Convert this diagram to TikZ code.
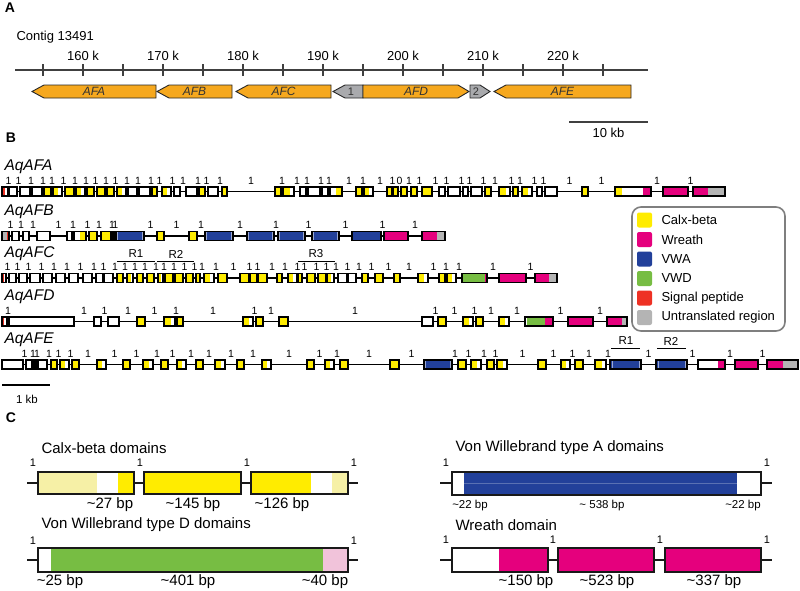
\documentclass[tikz,border=0pt]{standalone}
\usepackage{fontspec}
\setmainfont{Liberation Sans}
\usetikzlibrary{calc}

\definecolor{gen}{HTML}{F6A81E}
\definecolor{gengr}{HTML}{A9AAAD}
\definecolor{cb}{HTML}{FFEC00}
\definecolor{cblt}{HTML}{F6F0A6}
\definecolor{wr}{HTML}{E5007D}
\definecolor{wrlt}{HTML}{F1C3DA}
\definecolor{vwa}{HTML}{22409A}
\definecolor{vwd}{HTML}{77BD43}
\definecolor{sp}{HTML}{EE3124}
\definecolor{utr}{HTML}{B4B4B4}
\definecolor{rim}{HTML}{7F7F7F}

% split points inside a path picture
\newcommand\ppb[1]{($(path picture bounding box.south west)!#1!(path picture bounding box.south east)$)}
\newcommand\ppt[1]{($(path picture bounding box.north west)!#1!(path picture bounding box.north east)$)}

% one gene row: name, y, exons a/b/style/phase
\newcommand\exonrow[3]{%
  \foreach \xa/\xb/\sty/\lab [remember=\xb as \xl (initially 0), count=\i] in {#3}{%
    \ifnum\i>1 \node[ph] (#1-\i) at ({(\xl+\xa)/2},#2-11) {\lab};\fi
    \edef\exopt{ex,\sty}%
    \expandafter\draw\expandafter[\exopt] (\xa,#2-4.5) rectangle (\xb,#2+4.5);
  }}

\begin{document}
\begin{tikzpicture}[x=1pt, y=-1pt,
    font=\fontsize{13}{15}\selectfont,
    panel/.style={font=\bfseries\fontsize{14}{16}\selectfont},
    axis/.style={line width=1.5pt, black!75},
    gene/.style={draw=black!85, line width=0.9pt, fill=gen},
    gl/.style={font=\itshape\fontsize{12}{14}\selectfont, text=black!80},
    rowlbl/.style={font=\itshape\fontsize{15.5}{17}\selectfont, anchor=west},
    ph/.style={font=\fontsize{10.5}{11}\selectfont, inner sep=0pt},
    intr/.style={line width=1.1pt},
    ex/.style={draw=black, line width=1.1pt},
    tri/.style n args={5}{fill=#3, path picture={\fill[#1] \ppb{0} rectangle \ppt{#2}; \fill[#5] \ppb{#4} rectangle \ppt{1};}},
    W/.style={fill=white},
    Y/.style={fill=cb},
    M/.style={fill=wr},
    YW/.style={tri={cb}{#1}{white}{1}{white}}, YW/.default=0.6,
    WY/.style={tri={white}{#1}{cb}{1}{cb}}, WY/.default=0.5,
    SP/.style={tri={sp}{#1}{white}{1}{white}}, SP/.default=0.45,
    UR/.style={tri={utr}{#1}{sp}{1}{sp}}, UR/.default=0.65,
    MU/.style={tri={wr}{#1}{utr}{1}{utr}}, MU/.default=0.6,
    WM/.style={tri={white}{#1}{wr}{1}{wr}}, WM/.default=0.75,
    B/.style={fill=vwa, path picture={\draw[white!55!vwa, line width=0.6pt] \ppb{0.06} -- \ppt{0.06} \ppb{0.94} -- \ppt{0.94};}},
    BM/.style={tri={vwa}{0}{vwa}{0.95}{wr}},
    GM/.style={tri={white}{0.04}{vwd}{0.92}{wr}},
    WGM/.style={tri={white}{0.08}{vwd}{0.72}{wr}},
    YWM/.style={tri={cb}{0.2}{white}{0.78}{wr}},
    rb/.style={line width=0.8pt},
    rl/.style={font=\fontsize{11.5}{12}\selectfont},
    ct/.style={font=\fontsize{15}{17}\selectfont, anchor=west},
    bp/.style={font=\fontsize{15}{17}\selectfont},
    bps/.style={font=\fontsize{11.5}{13}\selectfont},
    cn/.style={font=\fontsize{11}{12}\selectfont},
    stem/.style={line width=2.6pt, black!90},
    dom/.style={draw=black!90, line width=2.6pt}]

    \useasboundingbox (0,0) rectangle (800,590);

    % A: kontig s geny
    \node[panel] (pA) at (10,8) {A};
    \node[anchor=west] (contig) at (13,37) {Contig 13491};
    \draw[axis] (15,70) -- (648,70);
    \foreach \i in {0,...,14} \draw[axis] ({43+40*\i},64) -- ++(0,12);
    \foreach \k [count=\i] in {160,170,...,220} \node (t\k) at ({3+80*\i},56) {\k\ k};

    \foreach \ta/\tb/\tc/\nm in {32/44/156/AFA, 157/169/232/AFB, 236/248/331/AFC, 494/506/631/AFE}{
      \draw[gene] (\ta,91.5) -- (\tb,85) -- (\tc,85) -- (\tc,98) -- (\tb,98) -- cycle;
      \node[gl] (g\nm) at ({(\ta+\tc)/2},91.5) {\nm};
    }
    \draw[gene, fill=gengr] (333,91.5) -- (345,85) -- (363,85) -- (363,98) -- (345,98) -- cycle;
    \node[gl, font=\fontsize{11}{12}\selectfont] (gOne) at (351,92) {1};
    \draw[gene] (363,85) -- (458,85) -- (469,91.5) -- (458,98) -- (363,98) -- cycle;
    \node[gl] (gAFD) at (416,91.5) {AFD};
    \draw[gene, fill=gengr] (470,85) -- (480,85) -- (490,91.5) -- (480,98) -- (470,98) -- cycle;
    \node[gl, font=\fontsize{11}{12}\selectfont] (gTwo) at (476,92) {2};

    \draw[axis] (569,122) -- (648,122);
    \node (kb10) at (608.5,133) {10 kb};

    % B: exony
    \node[panel] (pB) at (11,138) {B};

    \node[rowlbl] (nAFA) at (1,167) {AqAFA};
    \draw[intr] (2,191.5) -- (725,191.5);
    \exonrow{A}{191.5}{2/8/SP/, 9/17/W/1, 20/30/W/1, 32/42/W/1, 44/51/Y/1, 53/62/YW/1, 65/74/Y/1, 76/85/YW/1,
      87/94/Y/1, 97/105/Y/1, 107/114/Y/1, 117/126/YW/1, 128/137/W/1, 139/150/W/1, 152/157/Y/1, 162/171/YW/1,
      174/180/W/1, 186/197/W/1, 199/205/Y/1, 208/218/W/1, 222/227/Y/1, 275/281/Y/1, 283/294/YW/1, 300/306/W/1,
      308/320/W/1, 322/328/W/1, 330/342/WY/1, 356/362/Y/1, 364/373/YW/1, 387/392/Y/1, 393/398/Y/1, 401/407/Y/0,
      411/417/Y/1, 422/432/Y/1, 439/445/W/1, 448/460/W/1, 463/468/W/1, 471/482/W/1, 485/491/Y/1, 499/510/YW/1,
      513/518/Y/1, 522/532/YW/1, 537/542/W/1, 545/557/W/1, 582/588/Y/1, 615/651/YWM/1, 663/688/M/1, 693/725/MU=0.47/1}

    \node[rowlbl] (nAFB) at (1,212) {AqAFB};
    \draw[intr] (2,236) -- (445,236);
    \exonrow{B}{236}{2/9/UR/, 12/19/W/1, 23/29/W/1, 37/50/W/1, 67/72/W/1, 74/86/WY/1, 89/97/Y/1, 101/111/Y/1,
      113/114.5/W/1, 116/144/B/1, 157/164/Y/1, 189/197/Y/1, 205/233/B/1, 247/274/B/1, 278/305/B/1, 312/339/B/1,
      352/381/BM/1, 384/408/M/1, 422/445/MU=0.65/1}

    \node[rowlbl] (nAFC) at (1,254) {AqAFC};
    \draw[intr] (2,278) -- (557,278);
    \exonrow{C}{278}{2/6/SP/, 9/16/W/1, 19/27/W/1, 30/40/W/1, 43/52/W/1, 56/65/W/1, 69/78/W/1, 83/92/W/1,
      96/103/W/1, 104/113/W/1, 117/123/Y/1, 127/133/YW/1, 137/143/Y/1, 147/154/Y/1, 158/163/YW/1, 165/173/Y/1,
      175/183/Y/1, 186/193/Y/1, 196/200/Y/1, 204/214/YW/1, 218/227/Y/1, 240/249/Y/1, 250/257/Y/1, 258/267/Y/1,
      277/282/Y/1, 288/297/YW/1, 298/302/Y/1, 307/315/Y/1, 318/326/Y/1, 327/334/YW/1, 338/347/W/1, 348/356/W/1,
      362/368/Y/1, 375/383/Y/1, 394/400/Y/1, 418/428/YW/1, 439/445/Y/1, 447/456/YW/1, 462/487/GM/1, 499/526/M/1,
      535/557/MU=0.64/1}
    \draw[rb] (117,261) -- (155,261); \node[rl] (cR1) at (136,254) {R1};
    \draw[rb] (157,261) -- (194,261); \node[rl] (cR2) at (176,254) {R2};
    \draw[rb] (298,261) -- (335,261); \node[rl] (cR3) at (316,254) {R3};

    \node[rowlbl] (nAFD) at (1,297) {AqAFD};
    \draw[intr] (2,321.5) -- (627,321.5);
    \exonrow{D}{321.5}{2/7/SP/, 9/74/W/1, 94/101/W/1, 108/119/W/1, 137/145/Y/1, 164/175/YW/1, 177/183/Y/1,
      243/253/YW/1, 256/263/Y/1, 279/288/Y/1, 422/433/W/1, 438/446/Y/1, 463/473/YW/1, 476/483/Y/1, 499/509/YW/1,
      525/553/WGM/1, 568/593/M/1, 607/627/MU=0.75/1}

    \node[rowlbl] (nAFE) at (1,340) {AqAFE};
    \draw[intr] (2,364.5) -- (798,364.5);
    \exonrow{E}{364.5}{2/23/W/, 26/32/W/1, 34/36/W/1, 38/47/W/1, 51/57/Y/1, 60/69/YW/1, 72/79/Y/1, 97/106/YW/1,
      123/130/Y/1, 143/153/YW/1, 161/168/Y/1, 177/186/YW/1, 196/203/Y/1, 215/225/YW/1, 237/244/Y/1, 262/271/YW/1,
      307/314/Y/1, 325/334/YW/1, 340/348/Y/1, 390/399/Y/1, 424/452/B/1, 458/466/Y/1, 471/481/YW/1, 487/494/Y/1,
      497/507/YW/1, 538/546/Y/1, 561/570/YW/1, 575/583/Y/1, 595/606/YW/1, 610/641/B/1, 656/687/B/1, 698/725/WM/1,
      735/758/M/1, 767/798/MU=0.5/1}
    \draw[rb] (611,348) -- (640,348); \node[rl] (eR1) at (626,341) {R1};
    \draw[rb] (657,348) -- (686,348); \node[rl] (eR2) at (671,341) {R2};

    \draw[line width=1.1pt] (2,385) -- (50,385);
    \node[font=\fontsize{11.5}{13}\selectfont] (kb1) at (27,399) {1 kb};

    % legenda
    \draw[rim, line width=1.6pt, rounded corners=9pt] (632,207) rectangle (785,331);
    \foreach \c/\t [count=\i] in {cb/Calx-beta, wr/Wreath, vwa/VWA, vwd/VWD, sp/Signal peptide, utr/Untranslated region}{
      \fill[\c, rounded corners=2pt] (637,{193+19.5*\i}) rectangle ++(15,15);
      \node[anchor=west] (lg\i) at (658,{200.5+19.5*\i}) {\t};
    }

    % C: domeny
    \node[panel] (pC) at (11,418) {C};

    \node[ct] (tCB) at (38,448) {Calx-beta domains};
    \draw[stem] (27,483) -- (358,483);
    \fill[cblt] (38,472) rectangle (97,494);
    \fill[white] (97,472) rectangle (118,494);
    \fill[cb] (118,472) rectangle (134,494);
    \fill[cb] (144,472) rectangle (241,494);
    \fill[cb] (251,472) rectangle (311,494);
    \fill[white] (311,472) rectangle (332,494);
    \fill[cblt] (332,472) rectangle (348,494);
    \foreach \xa/\xb in {38/134, 144/241, 251/348} \draw[dom] (\xa,472) rectangle (\xb,494);
    \foreach \x [count=\i] in {33,140,247,354} \node[cn] (cbn\i) at (\x,463) {1};
    \node[bp] (cbA) at (110,505) {\textasciitilde27 bp};
    \node[bp] (cbB) at (193,505) {\textasciitilde145 bp};
    \node[bp] (cbC) at (282,505) {\textasciitilde126 bp};

    \node[ct] (tVWD) at (38,525) {Von Willebrand type D domains};
    \draw[stem] (27,560) -- (358,560);
    \fill[white] (38,548) rectangle (51,572);
    \fill[vwd] (51,548) rectangle (323,572);
    \fill[wrlt] (323,548) rectangle (348,572);
    \draw[dom] (38,548) rectangle (348,572);
    \node[cn] (vdn1) at (33,541) {1};
    \node[cn] (vdn2) at (354,541) {1};
    \node[bp] (vdA) at (60,582) {\textasciitilde25 bp};
    \node[bp] (vdB) at (188,582) {\textasciitilde401 bp};
    \node[bp] (vdC) at (325,582) {\textasciitilde40 bp};

    \node[ct] (tVWA) at (452,448) {Von Willebrand type A domains};
    \draw[stem] (440,483) -- (772,483);
    \fill[white] (452,472) rectangle (464,495);
    \fill[vwa] (464,472) rectangle (737,495);
    \fill[white] (737,472) rectangle (761,495);
    \draw[white!25!vwa, line width=0.4pt] (464,483) -- (737,483);
    \draw[dom] (452,472) rectangle (761,495);
    \node[cn] (van1) at (446,463) {1};
    \node[cn] (van2) at (767,463) {1};
    \node[bps] (vaA) at (470,506) {\textasciitilde22 bp};
    \node[bps] (vaB) at (602,506) {\textasciitilde\ 538 bp};
    \node[bps] (vaC) at (743,506) {\textasciitilde22 bp};

    \node[ct] (tWR) at (452,525) {Wreath domain};
    \draw[stem] (440,560) -- (772,560);
    \fill[white] (452,548) rectangle (499,572);
    \fill[wr] (499,548) rectangle (548,572);
    \fill[wr] (558,548) rectangle (654,572);
    \fill[wr] (665,548) rectangle (761,572);
    \foreach \xa/\xb in {452/548, 558/654, 665/761} \draw[dom] (\xa,548) rectangle (\xb,572);
    \foreach \x [count=\i] in {446,553,660,767} \node[cn] (wrn\i) at (\x,540) {1};
    \node[bp] (wrA) at (526,582) {\textasciitilde150 bp};
    \node[bp] (wrB) at (607,582) {\textasciitilde523 bp};
    \node[bp] (wrC) at (714,582) {\textasciitilde337 bp};
\end{tikzpicture}
\end{document}
